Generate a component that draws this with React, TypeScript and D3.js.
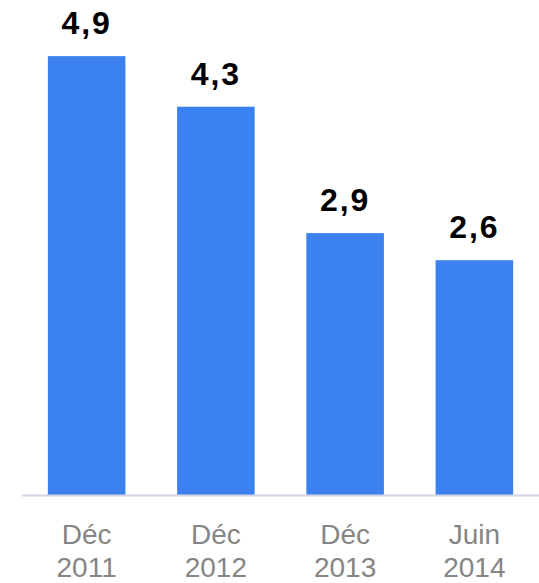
import React from "react";
import * as d3 from "d3";

const categoriesLine1 = ["Déc", "Déc", "Déc", "Juin"];
const categoriesLine2 = ["2011", "2012", "2013", "2014"];
const values = [4.86, 4.3, 2.9, 2.6];

const W = 539;
const H = 583;

export default function App() {
  const ids = values.map((_, i) => String(i));
  const x = d3.scaleBand<string>().domain(ids).range([22, W]).paddingInner(0.4).paddingOuter(0.2);
  const y = d3.scaleLinear().domain([0, 5]).range([495, 43.5]);
  const locale = d3.formatLocale({ decimal: ",", thousands: " ", grouping: [3], currency: ["", "€"] });
  const fmt = locale.format(".1f");
  const font = "'Liberation Sans', Arial, sans-serif";
  return (
    <svg width={W} height={H} style={{ position: "absolute", left: 0, top: 0 }}>
      <rect x={0} y={0} width={W} height={H} fill="#ffffff" />
      {values.map((v, i) => (
        <rect key={"b" + i} x={x(ids[i])} y={y(v)} width={x.bandwidth()} height={y(0) - y(v)} fill="#3b82f0" />
      ))}
      <line x1={22} x2={W} y1={y(0) + 0.5} y2={y(0) + 0.5} stroke="#d4d4e4" strokeWidth={2} />
      {values.map((v, i) => (
        <text key={"v" + i} x={(x(ids[i]) as number) + x.bandwidth() / 2} y={y(v) - 22} textAnchor="middle"
          fontFamily={font} fontWeight="bold" fontSize={32} letterSpacing={2} fill="#000">{fmt(v)}</text>
      ))}
      {values.map((_, i) => (
        <text key={"c" + i} textAnchor="middle" fontFamily={font} fontSize={28} fill="#858585">
          <tspan x={(x(ids[i]) as number) + x.bandwidth() / 2} y={544}>{categoriesLine1[i]}</tspan>
          <tspan x={(x(ids[i]) as number) + x.bandwidth() / 2} y={577}>{categoriesLine2[i]}</tspan>
        </text>
      ))}
    </svg>
  );
}
